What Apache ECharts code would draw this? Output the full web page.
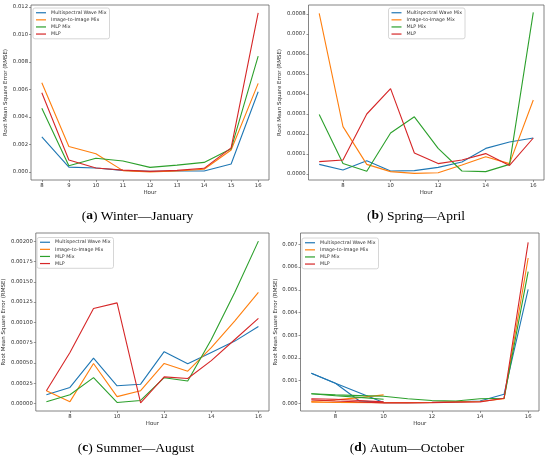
<!DOCTYPE html>
<html>
<head>
<meta charset="utf-8">
<script src="https://cdn.jsdelivr.net/npm/echarts@6/dist/echarts.min.js"></script>
<style>
html,body{margin:0;padding:0;background:#fff;}
#c{width:550px;height:456px;}
</style>
</head>
<body>
<div id="c"></div>
<script>
// ---------- data ----------
const seriesNames = ['Multispectral Wave Mix', 'Image-to-Image Mix', 'MLP Mix', 'MLP'];
const seriesColors = ['#1f77b4', '#ff7f0e', '#2ca02c', '#d62728'];

const hoursWinter = [8, 9, 10, 11, 12, 13, 14, 15, 16];
const hoursDay = [7, 8, 9, 10, 11, 12, 13, 14, 15, 16];
const hoursAutumnA = [7, 8, 9, 10];
const hoursAutumnB = [7, 8, 10, 11, 12, 13, 14, 15, 16];

const winterMultispectral = [0.00256, 0.00036, 0.00029, 0.00012, 0.00005, 0.00007, 0.00007, 0.00058, 0.00584];
const winterImageToImage  = [0.00650, 0.00186, 0.00133, 0.00010, 0.00000, 0.00007, 0.00020, 0.00160, 0.00645];
const winterMLPMix        = [0.00464, 0.00046, 0.00100, 0.00080, 0.00034, 0.00050, 0.00070, 0.00170, 0.00843];
const winterMLP           = [0.00577, 0.00087, 0.00029, 0.00014, 0.00005, 0.00012, 0.00027, 0.00176, 0.01157];

const springMultispectral = [0.000048, 0.000020, 0.000066, 0.000015, 0.000017, 0.000033, 0.000060, 0.000128, 0.000160, 0.000180];
const springImageToImage  = [0.000803, 0.000237, 0.000048, 0.000012, 0.000003, 0.000006, 0.000045, 0.000086, 0.000052, 0.000370];
const springMLPMix        = [0.000297, 0.000052, 0.000014, 0.000205, 0.000286, 0.000128, 0.000015, 0.000012, 0.000048, 0.000808];
const springMLP           = [0.000062, 0.000070, 0.000300, 0.000427, 0.000105, 0.000052, 0.000070, 0.000102, 0.000043, 0.000180];

const summerMultispectral = [0.00011, 0.00020, 0.00056, 0.00022, 0.00024, 0.00064, 0.00049, 0.00063, 0.00077, 0.00095];
const summerImageToImage  = [0.00016, 0.000025, 0.000495, 0.000087, 0.00016, 0.000495, 0.00040, 0.00069, 0.00102, 0.00137];
const summerMLPMix        = [0.000025, 0.00011, 0.00032, 0.000015, 0.00004, 0.00032, 0.00028, 0.00079, 0.00137, 0.00200];
const summerMLP           = [0.00016, 0.00063, 0.00117, 0.00124, 0.00001, 0.00033, 0.00031, 0.00053, 0.00079, 0.00105];

const autumnMultispectralA = [0.00132, 0.00088, 0.00010, 0.00004];
const autumnImageToImageA  = [0.00008, 0.00015, 0.00025, 0.00037];
const autumnMLPMixA        = [0.00042, 0.00033, 0.00026, 0.00018];
const autumnMLPA           = [0.00020, 0.00018, 0.00012, 0.00006];

const autumnMultispectralB = [0.00132, 0.00088, 0.00003, 0.00003, 0.00004, 0.00006, 0.00010, 0.00040, 0.00502];
const autumnImageToImageB  = [0.00005, 0.00004, 0.00003, 0.00003, 0.00004, 0.00006, 0.00008, 0.00020, 0.00640];
const autumnMLPMixB        = [0.00042, 0.00037, 0.00031, 0.00020, 0.00012, 0.00010, 0.00020, 0.00022, 0.00580];
const autumnMLPB           = [0.00015, 0.00010, 0.00002, 0.00002, 0.00003, 0.00005, 0.00006, 0.00022, 0.00709];

const xTicksWinter = [8, 9, 10, 11, 12, 13, 14, 15, 16];
const xTicksDay = [8, 10, 12, 14, 16];
const yTicksWinter = [0, 0.002, 0.004, 0.006, 0.008, 0.010, 0.012];
const yTicksSpring = [0, 0.0001, 0.0002, 0.0003, 0.0004, 0.0005, 0.0006, 0.0007, 0.0008];
const yTicksSummer = [0, 0.00025, 0.0005, 0.00075, 0.001, 0.00125, 0.0015, 0.00175, 0.002];
const yTicksAutumn = [0, 0.001, 0.002, 0.003, 0.004, 0.005, 0.006, 0.007];

const captions = [
  {tag: 'a', text: ' Winter—January'},
  {tag: 'b', text: ' Spring—April'},
  {tag: 'c', text: ' Summer—August'},
  {tag: 'd', text: ' Autum—October'}
];

// ---------- layout ----------
const FONT = 'DejaVu Sans';
const TXT = '#333';
const grids = [
  {left: 31, top: 5, width: 238, height: 175},
  {left: 308.5, top: 5, width: 235.5, height: 175},
  {left: 35, top: 233, width: 234, height: 178},
  {left: 300.5, top: 233, width: 238.5, height: 178}
];
const xRanges = [[7.6, 16.4], [6.55, 16.45], [6.55, 16.45], [6.55, 16.45]];
const yRanges = [[-0.00058, 0.01215], [-0.00003, 0.000845], [-0.00009, 0.0021], [-0.00034, 0.0075]];
const xTickSets = [xTicksWinter, xTicksDay, xTicksDay, xTicksDay];
const yTickSets = [yTicksWinter, yTicksSpring, yTicksSummer, yTicksAutumn];
const yDecimals = [3, 4, 5, 3];
const yNameGaps = [20, 21.5, 26, 19];
const legendPos = [
  {left: 33, top: 8},
  {left: 388.5, top: 8},
  {left: 37, top: 237.5},
  {left: 302, top: 238}
];

const xAxes = grids.map((g, i) => ({
  type: 'value', gridIndex: i, min: xRanges[i][0], max: xRanges[i][1],
  name: 'Hour', nameLocation: 'middle', nameGap: 10,
  nameTextStyle: {fontFamily: FONT, fontSize: 5.5, color: TXT},
  axisLine: {show: false, onZero: false},
  splitLine: {show: false},
  axisTick: {show: true, length: 2, customValues: xTickSets[i], lineStyle: {color: '#555', width: 0.6}},
  axisLabel: {customValues: xTickSets[i], fontFamily: FONT, fontSize: 5.3, color: TXT, margin: 3.5,
    formatter: v => String(Math.round(v))}
}));
const yAxes = grids.map((g, i) => ({
  type: 'value', gridIndex: i, min: yRanges[i][0], max: yRanges[i][1],
  name: 'Root Mean Square Error (RMSE)', nameLocation: 'middle', nameGap: yNameGaps[i],
  nameTextStyle: {fontFamily: FONT, fontSize: 5.5, color: TXT},
  axisLine: {show: false, onZero: false},
  splitLine: {show: false},
  axisTick: {show: true, length: 2, customValues: yTickSets[i], lineStyle: {color: '#555', width: 0.6}},
  axisLabel: {customValues: yTickSets[i], fontFamily: FONT, fontSize: 5.3, color: TXT, margin: 3,
    formatter: v => Number(v).toFixed(yDecimals[i])}
}));

function pairs(hours, vals) { return hours.map((h, k) => [h, vals[k]]); }
function mkSeries(name, k, gi, data) {
  return {
    type: 'line', name: name, xAxisIndex: gi, yAxisIndex: gi,
    data: data, symbol: 'none', smooth: false,
    lineStyle: {color: seriesColors[k], width: 1.1}, itemStyle: {color: seriesColors[k]},
    emphasis: {disabled: true}
  };
}
const series = [];
const winterSets = [winterMultispectral, winterImageToImage, winterMLPMix, winterMLP];
const springSets = [springMultispectral, springImageToImage, springMLPMix, springMLP];
const summerSets = [summerMultispectral, summerImageToImage, summerMLPMix, summerMLP];
const autumnSetsA = [autumnMultispectralA, autumnImageToImageA, autumnMLPMixA, autumnMLPA];
const autumnSetsB = [autumnMultispectralB, autumnImageToImageB, autumnMLPMixB, autumnMLPB];
seriesNames.forEach((n, k) => series.push(mkSeries(n, k, 0, pairs(hoursWinter, winterSets[k]))));
seriesNames.forEach((n, k) => series.push(mkSeries(n, k, 1, pairs(hoursDay, springSets[k]))));
seriesNames.forEach((n, k) => series.push(mkSeries(n, k, 2, pairs(hoursDay, summerSets[k]))));
seriesNames.forEach((n, k) => {
  series.push(mkSeries(n, k, 3, pairs(hoursAutumnA, autumnSetsA[k])));
  series.push(mkSeries(n, k, 3, pairs(hoursAutumnB, autumnSetsB[k])));
});

const legends = legendPos.map(p => ({
  left: p.left, top: p.top, orient: 'vertical',
  data: seriesNames.map(n => ({name: n, icon: 'rect'})),
  itemWidth: 10, itemHeight: 1.2, itemGap: 1.6,
  padding: [2, 3, 2, 3],
  backgroundColor: 'rgba(255,255,255,0.8)', borderColor: '#ccc', borderWidth: 0.8, borderRadius: 2,
  textStyle: {fontFamily: FONT, fontSize: 4.8, color: TXT, lineHeight: 5.5},
  selectedMode: false
}));

const capPos = [[137.5, 216], [416, 216], [136, 448], [407, 448]];
const graphics = captions.map((c, i) => ({
  type: 'text', x: capPos[i][0], y: capPos[i][1],
  style: {
    text: '({b|' + c.tag + '})' + c.text,
    align: 'center', verticalAlign: 'middle',
    fontFamily: 'Liberation Serif', fontSize: 13.5, fill: '#000',
    rich: {b: {fontFamily: 'Liberation Serif', fontSize: 13.5, fontWeight: 'bold', fill: '#000'}}
  }
}));

const option = {
  animation: false,
  backgroundColor: '#fff',
  grid: grids.map(g => Object.assign({show: true, borderColor: '#666', borderWidth: 0.8, backgroundColor: 'transparent'}, g)),
  xAxis: xAxes,
  yAxis: yAxes,
  legend: legends,
  series: series,
  graphic: graphics
};
const chart = echarts.init(document.getElementById('c'), null, {renderer: 'canvas'});
chart.setOption(option);
</script>
</body>
</html>
